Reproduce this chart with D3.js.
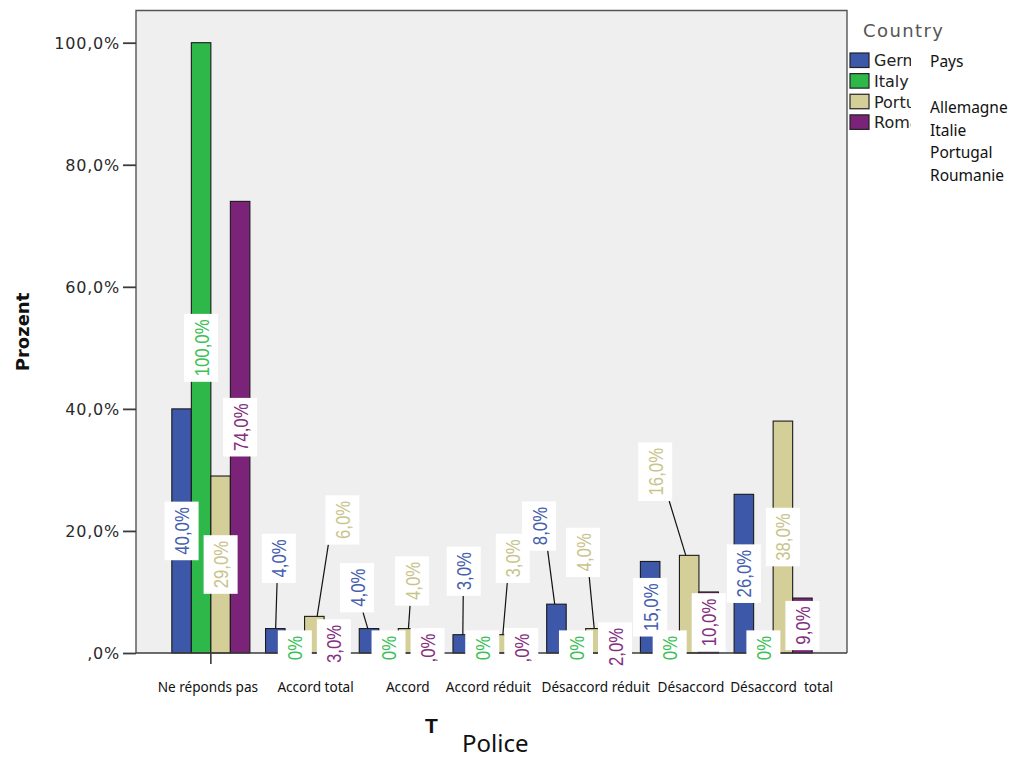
<!DOCTYPE html>
<html>
<head>
<meta charset="utf-8">
<script src="https://cdn.jsdelivr.net/npm/d3@7"></script>
<style>
  html, body { margin: 0; padding: 0; background: #fff; }
  svg { display: block; }
</style>
</head>
<body>
<svg id="chart" width="1016" height="758"></svg>
<script>
// Police — answers by country (percent of respondents)
const categories = ["Ne réponds pas", "Accord total", "Accord", "Accord réduit",
                    "Désaccord réduit", "Désaccord", "Désaccord  total"];
const countries = ["Germany", "Italy", "Portugal", "Romania"];
const countriesFr = ["Allemagne", "Italie", "Portugal", "Roumanie"];
const germany  = [40, 4, 4, 3, 8, 15, 26];
const italy    = [100, 0, 0, 0, 0, 0, 0];
const portugal = [29, 6, 4, 3, 4, 16, 38];
const romania  = [74, 3, 0, 0, 2, 10, 9];
const yTicks = [0, 20, 40, 60, 80, 100];
const zeroLabels = [",0%", "0%", ",0%", ",0%"];

const seriesValues = [germany, italy, portugal, romania];

// styling
const barColors  = ["#3d57a9", "#2eb84a", "#d4cf98", "#7b2378"];
const textColors = ["#4560b0", "#3cc157", "#c9c48c", "#84307f"];

// labels lifted off short bars (anchor value in %, horizontal shift in px)
const labelMoves = {
  "0|1": { at: 15.5, dx: 3.5 },
  "2|1": { at: 21.8, dx: 28 },
  "0|2": { at: 10.7, dx: -12 },
  "2|2": { at: 11.8, dx: 4 },
  "0|3": { at: 13.4, dx: 1 },
  "2|3": { at: 15.5, dx: 11 },
  "0|4": { at: 20.8, dx: -17.5 },
  "2|4": { at: 16.5, dx: -12.5 },
  "2|5": { at: 29.7, dx: -34 }
};
// category label shifts under the axis
const catShift = [-3, 11, 9.5, -3.5, 10, 11.5, 8.5];

const svg = d3.select("#chart");

const frame = { left: 136, right: 847, top: 10.5, bottom: 653 };

const x0 = d3.scaleBand()
  .domain(categories)
  .range([164, 820])
  .paddingInner(0.167)
  .paddingOuter(0.0835);
const x1 = d3.scaleBand()
  .domain(countries)
  .range([0, x0.bandwidth()]);
const y = d3.scaleLinear().domain([0, 100]).range([653, 42.7]);

const pct = v => {
  const s = d3.format(".1f")(v).replace(".", ",");
  return (s.startsWith("0,") ? s.slice(1) : s) + "%";
};

// plot background
svg.append("rect")
  .attr("x", frame.left).attr("y", frame.top)
  .attr("width", frame.right - frame.left)
  .attr("height", frame.bottom - frame.top)
  .attr("fill", "#efefef");

// bars
const rows = [];
categories.forEach((c, ci) => {
  countries.forEach((s, si) => {
    rows.push({ cat: c, ci, series: s, si, v: seriesValues[si][ci] });
  });
});

const gBars = svg.append("g");
gBars.selectAll("rect")
  .data(rows.filter(d => d.v > 0))
  .join("rect")
  .attr("x", d => x0(d.cat) + x1(d.series))
  .attr("y", d => y(d.v))
  .attr("width", x1.bandwidth())
  .attr("height", d => y(0) - y(d.v))
  .attr("fill", d => barColors[d.si])
  .attr("stroke", "#1a1a1a")
  .attr("stroke-width", 1.1);

// frame and axes
const axisColor = "#3c3c3c";
svg.append("path")
  .attr("d", `M${frame.left},${frame.bottom}V${frame.top}H${frame.right}V${frame.bottom}`)
  .attr("fill", "none").attr("stroke", "#555").attr("stroke-width", 1.4);

const yAxis = d3.axisLeft(y)
  .tickValues(yTicks)
  .tickSize(13)
  .tickPadding(3)
  .tickFormat(pct);
const gy = svg.append("g").attr("transform", `translate(${frame.left},0)`).call(yAxis);
gy.select(".domain").remove();
gy.selectAll(".tick line").attr("stroke", axisColor).attr("stroke-width", 1.8);
gy.selectAll(".tick text")
  .attr("fill", "#2a2a2a")
  .attr("font-family", "DejaVu Sans, sans-serif")
  .attr("font-size", 16)
  .attr("letter-spacing", 0.8)
  .attr("dy", "0.36em");

const xAxis = d3.axisBottom(x0).tickSize(11).tickFormat("");
const gx = svg.append("g").attr("transform", `translate(0,${frame.bottom})`).call(xAxis);
gx.select(".domain").remove();
gx.selectAll(".tick line").attr("stroke", axisColor).attr("stroke-width", 1.6);
svg.append("line")
  .attr("x1", frame.left).attr("x2", frame.right)
  .attr("y1", frame.bottom).attr("y2", frame.bottom)
  .attr("stroke", axisColor).attr("stroke-width", 1.6);

// value labels: white boxes with vertical, narrowed text
const fmt = (v, si) => v === 0 ? zeroLabels[si] : d3.format(".1f")(v).replace(".", ",") + "%";
const gLab = svg.append("g");
const labelFont = "Liberation Sans, Arial, sans-serif";
const squeeze = 0.8;
const boxW = 34;

rows.forEach(d => {
  const bx = x0(d.cat) + x1(d.series) + x1.bandwidth() / 2;
  const mv = labelMoves[`${d.si}|${d.ci}`];
  const cx = bx + (mv ? mv.dx : 0);
  const cy = mv ? y(mv.at) : (d.v === 0 ? y(0) - 5 : y(d.v / 2));
  const g = gLab.append("g");
  const t = g.append("text")
    .attr("transform", `translate(${cx},${cy}) rotate(-90) scale(${squeeze},1)`)
    .attr("text-anchor", "middle")
    .attr("dy", "0.36em")
    .attr("font-family", labelFont)
    .attr("font-size", 21)
    .attr("fill", textColors[d.si])
    .text(fmt(d.v, d.si));
  const len = t.node().getComputedTextLength() * squeeze;
  const h = len + 11;
  g.insert("rect", "text")
    .attr("x", cx - boxW / 2).attr("y", cy - h / 2)
    .attr("width", boxW).attr("height", h)
    .attr("fill", "#fff");
  if (mv) {
    const sx = Math.max(cx - boxW / 2 + 3, Math.min(cx + boxW / 2 - 3, cx + (bx - cx) * 0.5));
    g.insert("line", "rect")
      .attr("x1", sx).attr("y1", cy + h / 2)
      .attr("x2", bx + (cx - bx) * 0.1).attr("y2", y(d.v))
      .attr("stroke", "#111").attr("stroke-width", 1.2);
  }
});

// category labels
svg.append("g").selectAll("text")
  .data(categories)
  .join("text")
  .attr("x", (c, i) => x0(c) + x0.bandwidth() / 2 + catShift[i])
  .attr("y", 692)
  .attr("text-anchor", "middle")
  .attr("font-family", "Noto Sans, sans-serif")
  .attr("font-size", 13.6)
  .attr("fill", "#111")
  .style("white-space", "pre")
  .text(c => c);

// axis titles
svg.append("text")
  .attr("transform", "translate(29,332) rotate(-90)")
  .attr("text-anchor", "middle")
  .attr("font-family", "DejaVu Sans, sans-serif")
  .attr("font-weight", "bold")
  .attr("font-size", 18)
  .attr("fill", "#111")
  .text("Prozent");

svg.append("text")
  .attr("x", 431.5).attr("y", 733)
  .attr("text-anchor", "middle")
  .attr("font-family", "Liberation Sans, Arial, sans-serif")
  .attr("font-weight", "bold")
  .attr("font-size", 21)
  .attr("fill", "#111")
  .text("T");

svg.append("text")
  .attr("x", 462).attr("y", 752)
  .attr("font-family", "Noto Sans, sans-serif")
  .attr("font-size", 24)
  .attr("fill", "#111")
  .text("Police");

// legend
svg.append("text")
  .attr("x", 863).attr("y", 37)
  .attr("font-family", "DejaVu Sans, sans-serif")
  .attr("font-size", 18)
  .attr("letter-spacing", 1.4)
  .attr("fill", "#555")
  .text("Country");

svg.append("clipPath").attr("id", "legclip")
  .append("rect").attr("x", 840).attr("y", 40).attr("width", 71).attr("height", 100);

const leg = svg.append("g").attr("clip-path", "url(#legclip)");
const legY = d3.scaleBand().domain(countries).range([50, 132.5]);
countries.forEach((s, i) => {
  leg.append("rect")
    .attr("x", 850).attr("y", legY(s) + 3)
    .attr("width", 19).attr("height", 14.5)
    .attr("fill", barColors[i])
    .attr("stroke", "#222").attr("stroke-width", 1.2);
  leg.append("text")
    .attr("x", 874).attr("y", legY(s) + 10.5)
    .attr("dy", "0.36em")
    .attr("font-family", "DejaVu Sans, sans-serif")
    .attr("font-size", 16)
    .attr("fill", "#222")
    .text(s);
});

// French key beside the legend
const frFont = "Noto Sans, sans-serif";
svg.append("text")
  .attr("x", 930).attr("y", 67)
  .attr("font-family", frFont).attr("font-size", 15.5).attr("fill", "#111")
  .text("Pays");
const frY = d3.scalePoint().domain(countriesFr).range([113, 180.5]);
svg.append("g").selectAll("text")
  .data(countriesFr)
  .join("text")
  .attr("x", 930).attr("y", d => frY(d))
  .attr("font-family", frFont).attr("font-size", 15.5).attr("fill", "#111")
  .text(d => d);
</script>
</body>
</html>
